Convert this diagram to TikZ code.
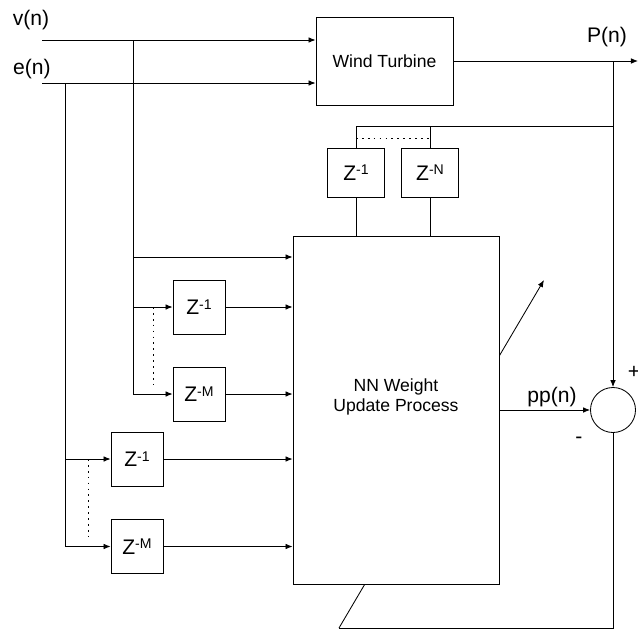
\documentclass[tikz,border=0pt]{standalone}
\usepackage{fontspec}
\setmainfont{Liberation Sans}
\usetikzlibrary{arrows.meta}
\newcommand{\zpow}[1]{Z\raisebox{4pt}{\fontsize{10}{10}\selectfont #1}}

\begin{document}
\begin{tikzpicture}[x=0.025cm,y=-0.025cm,line width=0.6pt,>={Latex[length=5pt,width=4pt]},
	box/.style={draw,fill=white,inner sep=0pt},
	delay/.style={box,minimum width=1.3cm,minimum height=1.35cm,font=\fontsize{15}{18}\selectfont},
	lbl/.style={font=\fontsize{15}{18}\selectfont},
	dots/.style={dash pattern=on 1.2pt off 3pt}]
	\useasboundingbox (0,0) rectangle (638,631);
	% inputs
	\coordinate (vin) at (42,40);
	\coordinate (ein) at (42,83);
	\node[lbl] (vlbl) at (31,20) {v(n)};
	\node[lbl] (elbl) at (32,69) {e(n)};
	\node[box,minimum width=3.425cm,minimum height=2.2cm,font=\fontsize{12.5}{15}\selectfont] (wt) at (384.5,61) {Wind Turbine};
	\draw[->] (vin) -- (vin -| wt.west);
	\draw[->] (ein) -- (ein -| wt.west);
	\coordinate (pout) at (638,61);
	\draw[->] (wt.east) -- (pout);
	\node[lbl] (plbl) at (607,37) {P(n)};
	% adaptation line (behind the NN box)
	\coordinate (adj0) at (339,628);
	\coordinate (adj1) at (544,280);
	\draw[->] (adj0) -- (adj1);
	\node[box,minimum width=5.15cm,minimum height=8.7cm] (nn) at (396,410) {};
	\node[font=\fontsize{12.5}{14}\selectfont,align=center] (nntxt) at (396,397) {NN Weight\\Update Process};
	% summing junction
	\node[draw,circle,minimum size=1.125cm,inner sep=0pt] (sum) at (613,410) {};
	\coordinate (ptap) at (613,61);
	\draw[->] (ptap) -- (sum.north);
	\draw[->] (nn.east |- sum) -- (sum.west);
	\draw (sum.south) -- (sum.south |- adj0) -- (adj0);
	\node[lbl] (pplbl) at (552,397) {pp(n)};
	\node[lbl] (plus) at (634,372) {+};
	\node[lbl] (minus) at (579,440) {-};
	% output delays
	\coordinate (fb) at (613,126);
	\node[delay,minimum width=1.425cm,minimum height=1.225cm] (dz1) at (356,172.5) {\zpow{-1}};
	\node[delay,minimum width=1.425cm,minimum height=1.225cm] (dzN) at (430,172.5) {\zpow{-N}};
	\draw (fb) -- (fb -| dz1) -- (dz1.north);
	\draw (fb -| dzN) -- (dzN.north);
	\coordinate (ndot) at (356,138);
	\draw[dots] (ndot) -- (ndot -| dzN);
	\foreach \b in {dz1,dzN} \draw (\b.south) -- (\b.south |- nn.north);
	% input delays
	\node[delay] (vz1) at (199,307) {\zpow{-1}};
	\node[delay] (vzM) at (199,394) {\zpow{-M}};
	\node[delay] (ez1) at (137,459) {\zpow{-1}};
	\node[delay] (ezM) at (137,546.5) {\zpow{-M}};
	\coordinate (vtap) at (133,40);
	\coordinate (vdir) at (133,257);
	\coordinate (etap) at (65,83);
	\draw[->] (vtap) |- (vzM.west);
	\draw[->] (vtap |- vz1) -- (vz1.west);
	\draw[->] (vdir) -- (vdir -| nn.west);
	\draw[->] (etap) |- (ezM.west);
	\draw[->] (etap |- ez1) -- (ez1.west);
	\coordinate (vdot) at (153,307);
	\coordinate (edot) at (88,459);
	\draw[dots] (vdot) -- (153,388);
	\draw[dots] (edot) -- (88,540);
	\foreach \b in {vz1,vzM,ez1,ezM} \draw[->] (\b.east) -- (\b -| nn.west);
\end{tikzpicture}
\end{document}
